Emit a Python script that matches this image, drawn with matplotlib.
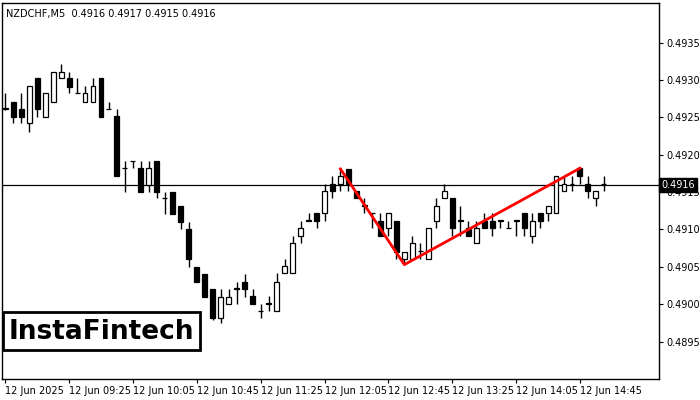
import numpy as np
import matplotlib
matplotlib.use('Agg')
from matplotlib import pyplot as plt
from matplotlib.patches import Rectangle

opens = [.49261,.49271,.49261,.49242,.49303,.49251,.49271,.49303,.49303,.49282,
         .49271,.49271,.49303,.49261,.49252,.49182,.49191,.49182,.49160,.49191,
         .49142,.49150,.49131,.49101,.49050,.49041,.49021,.48981,.49001,.49021,
         .49030,.49011,.48991,.49001,.48991,.49042,.49042,.49091,.49112,.49122,
         .49122,.49161,.49161,.49181,.49151,.49132,.49122,.49112,.49102,.49112,
         .49060,.49060,.49071,.49060,.49112,.49142,.49142,.49112,.49102,.49082,
         .49112,.49112,.49112,.49102,.49112,.49122,.49091,.49122,.49122,.49122,
         .49151,.49161,.49182,.49161,.49142,.49161]
highs = [.49282,.49271,.49282,.49292,.49303,.49282,.49311,.49322,.49311,.49303,
         .49292,.49303,.49303,.49271,.49261,.49191,.49191,.49191,.49191,.49191,
         .49150,.49150,.49131,.49110,.49050,.49041,.49021,.49021,.49021,.49030,
         .49041,.49021,.49001,.49011,.49042,.49061,.49091,.49112,.49122,.49122,
         .49161,.49171,.49181,.49181,.49151,.49142,.49122,.49122,.49122,.49112,
         .49070,.49091,.49082,.49102,.49142,.49161,.49142,.49132,.49112,.49112,
         .49122,.49122,.49112,.49112,.49112,.49122,.49122,.49122,.49132,.49172,
         .49172,.49172,.49182,.49172,.49151,.49172]
lows = [.49260,.49242,.49242,.49231,.49251,.49251,.49271,.49303,.49282,.49282,
        .49271,.49271,.49251,.49261,.49171,.49150,.49182,.49150,.49150,.49142,
        .49121,.49121,.49101,.49050,.49030,.49010,.48979,.48975,.49001,.49001,
        .49010,.49001,.48981,.48991,.48991,.49042,.49042,.49082,.49112,.49102,
        .49112,.49142,.49151,.49151,.49142,.49122,.49102,.49091,.49091,.49060,
        .49053,.49060,.49060,.49060,.49102,.49142,.49091,.49091,.49091,.49082,
        .49102,.49091,.49102,.49102,.49091,.49091,.49082,.49102,.49112,.49122,
        .49151,.49151,.49161,.49142,.49132,.49151]
closes = [.49262,.49251,.49251,.49292,.49261,.49282,.49311,.49311,.49291,.49282,
          .49282,.49292,.49251,.49261,.49171,.49182,.49191,.49150,.49182,.49150,
          .49142,.49121,.49110,.49060,.49030,.49010,.48981,.49010,.49010,.49021,
          .49021,.49001,.48991,.49001,.49030,.49051,.49082,.49102,.49112,.49112,
          .49151,.49151,.49171,.49161,.49142,.49132,.49122,.49091,.49122,.49070,
          .49070,.49082,.49071,.49102,.49132,.49151,.49102,.49112,.49091,.49102,
          .49102,.49102,.49112,.49102,.49112,.49102,.49112,.49112,.49132,.49172,
          .49161,.49161,.49172,.49151,.49151,.49161]

time_labels = ['12 Jun 2025', '12 Jun 09:25', '12 Jun 10:05', '12 Jun 10:45', '12 Jun 11:25',
               '12 Jun 12:05', '12 Jun 12:45', '12 Jun 13:25', '12 Jun 14:05', '12 Jun 14:45']
price_ticks = [0.4895, 0.4900, 0.4905, 0.4910, 0.4915, 0.4920, 0.4925, 0.4930, 0.4935]

# pattern: candle index and price of the three points
pattern_idx = [43, 51, 73]
pattern_px = [0.49181, 0.49053, 0.49182]
last_price = 0.4916

fig = plt.figure(figsize=(7, 4), dpi=100)
ax = fig.add_axes([2/700, 21/400, 657/700, 376/400])

x = np.arange(1, len(opens) + 1)
o = np.array(opens); c = np.array(closes)
ax.vlines(x, lows, highs, color='black', linewidth=1, zorder=2)
bottom = np.minimum(o, c)
height = np.maximum(np.abs(c - o), 0.000002)
face = ['white' if cc >= oo else 'black' for oo, cc in zip(o, c)]
ax.bar(x, height, bottom=bottom, width=0.62, color=face, edgecolor='black', linewidth=0.9, zorder=3)

ax.axhline(last_price, color='black', linewidth=0.9, zorder=1)
ax.plot(pattern_idx, pattern_px, color='#ff0000', linewidth=2, zorder=4)

ax.set_xlim(0.6, 82.9)
ax.set_ylim(0.48900, 0.49403)
ax.yaxis.tick_right()
ax.set_yticks(price_ticks)
ax.set_yticklabels(['%.4f' % p for p in price_ticks])
ax.set_xticks(np.arange(1, 1 + 8 * len(time_labels), 8))
ax.set_xticklabels(time_labels, ha='left')
ax.tick_params(axis='both', labelsize=7, length=3, color='black', pad=2)
for s in ax.spines.values():
    s.set_linewidth(1)

ax.text(1.003, (last_price - 0.48900) / (0.49403 - 0.48900), '%.4f' % last_price,
        transform=ax.transAxes, fontsize=7, color='white', va='center', ha='left',
        bbox=dict(facecolor='black', edgecolor='black', pad=1.5), zorder=10, clip_on=False)

ax.text(0.006, 0.985, 'NZDCHF,M5  0.4916 0.4917 0.4915 0.4916', transform=ax.transAxes,
        fontsize=7, va='top', ha='left')

# logo box
fig.patches.append(Rectangle((3/700, 1 - 350/400), 197/700, 38/400, transform=fig.transFigure,
                             facecolor='white', edgecolor='black', linewidth=2, zorder=20))
fig.text(101/700, 1 - 332/400, 'InstaFintech', fontsize=19, fontweight='bold', va='center',
         ha='center', zorder=21, family='DejaVu Sans')

fig.savefig('out.png', dpi=100)
